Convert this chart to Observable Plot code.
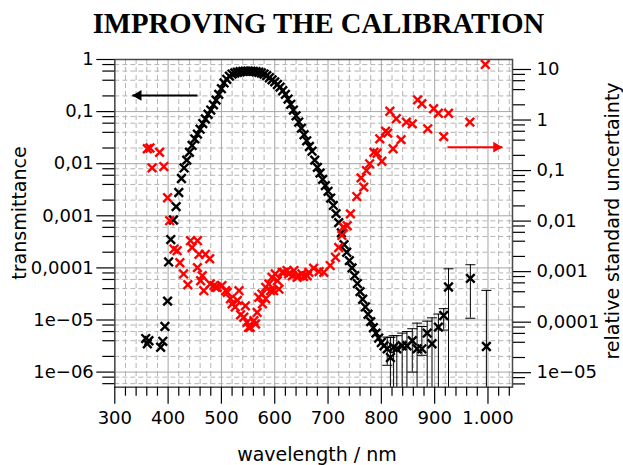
<!DOCTYPE html>
<html><head><meta charset="utf-8">
<script src="https://cdn.jsdelivr.net/npm/d3@7"></script>
<script src="https://cdn.jsdelivr.net/npm/@observablehq/plot@0.6"></script>
<style>
body{margin:0;background:#fff;}
#wrap{position:relative;width:623px;height:465px;overflow:hidden;}
#title{position:absolute;left:7px;top:0;width:623px;height:40px;text-align:center;font-family:"Liberation Serif","Times New Roman",serif;font-weight:bold;font-size:28.7px;line-height:46px;color:#000;white-space:nowrap;}
#chart{position:absolute;left:0;top:40px;}
.axlab{position:absolute;font-family:"DejaVu Sans",sans-serif;font-size:19px;line-height:1;white-space:nowrap;color:#000;transform:translate(-50%,-50%);}
.axlab.rot{transform:translate(-50%,-50%) rotate(-90deg);}
</style></head><body>
<div id="wrap">
  <div id="title">IMPROVING THE CALIBRATION</div>
  <div id="chart"></div>
  <div class="axlab rot" style="left:19px;top:213px;">transmittance</div>
  <div class="axlab rot" style="left:612px;top:221px;">relative standard uncertainty</div>
  <div class="axlab" style="left:317px;top:454px;">wavelength / nm</div>
</div>
<script>
// ---- tick labels ----
const xTickValues = [300, 400, 500, 600, 700, 800, 900, 1000];
const xTickLabels = ["300", "400", "500", "600", "700", "800", "900", "1.000"];
const leftTickValues = [1, 0.1, 0.01, 0.001, 0.0001, 1e-5, 1e-6];
const leftTickLabels = ["1", "0,1", "0,01", "0,001", "0,0001", "1e\u221205", "1e\u221206"];
const rightTickValues = [10, 1, 0.1, 0.01, 0.001, 0.0001, 1e-5];
const rightTickLabels = ["10", "1", "0,1", "0,01", "0,001", "0,0001", "1e\u221205"];

// ---- transmittance (black, left axis) ----
const blackNm = [358,361,364,386,390,394,399,401,405,410,415,420,425,430,435,440,445,450,455,460,465,470,475,480,485,490,495,500,505,510,515,520,525,530,535,540,545,550,555,560,565,570,575,580,585,590,595,600,605,610,615,620,625,630,635,640,645,650,655,660,665,670,675,680,685,690,695,700,705,710,715,720,725,730,735,740,745,750,755,760,765,770,775,780,785,790,795,800,805];
const blackT = [4.4e-6,3.5e-6,4.0e-6,3.0e-6,3.9e-6,7.5e-6,2.3e-5,1.3e-4,3.5e-4,8.3e-4,1.5e-3,2.8e-3,5.2e-3,8.3e-3,0.0117,0.0166,0.0224,0.030,0.037,0.046,0.059,0.072,0.089,0.107,0.135,0.166,0.214,0.275,0.355,0.417,0.479,0.525,0.55,0.569,0.582,0.59,0.596,0.597,0.596,0.59,0.582,0.569,0.55,0.525,0.49,0.447,0.407,0.372,0.331,0.295,0.251,0.214,0.174,0.138,0.107,0.083,0.063,0.048,0.036,0.0275,0.0214,0.0174,0.0117,0.0085,0.0066,0.0050,0.0038,0.00295,0.00219,0.00158,0.0011,7.4e-4,4.7e-4,2.8e-4,2.0e-4,1.38e-4,1.0e-4,7.1e-5,5.0e-5,3.5e-5,2.5e-5,1.78e-5,1.29e-5,9.3e-6,7.1e-6,5.6e-6,4.5e-6,3.7e-6,3.2e-6];

// ---- transmittance tail with error bars (null = lower bound below the axis) ----
const tailNm = [811,817,823,829,839,848,858,867,876,886,895,907,917,926,967,997];
const tailT = [2.8e-6,1.9e-6,3.0e-6,2.8e-6,3.2e-6,3.2e-6,4.0e-6,2.8e-6,2.8e-6,5.6e-6,3.5e-6,7.3e-6,1.22e-5,4.3e-5,6.3e-5,3.1e-6];
const tailLow = [1.35e-6,null,null,null,null,null,1.0e-6,null,2.1e-6,null,null,null,6.4e-6,null,1.08e-5,null];
const tailHigh = [4.7e-6,4.6e-6,5.0e-6,5.0e-6,5.6e-6,6.0e-6,6.8e-6,8.7e-6,7.5e-6,9.5e-6,1.1e-5,1.3e-5,1.65e-5,9.6e-5,1.15e-4,3.7e-5];

// ---- relative standard uncertainty (red, right axis) ----
const redNm = [361,366,370,384,392,399,403,411,417,422,429,437,442,445,455,455,458,461,464,467,470,478,479,486,489,492,501,508,511,517,520,526,530,533,536,542,545,548,551,554,561,564,567,570,576,577,583,583,589,592,595,598,601,605,608,614,617,623,626,633,636,642,645,651,654,661,664,673,683,692,704,714,720,726,729,736,742,754,762,767,772,778,786,792,797,801,808,812,816,822,828,837,847,858,868,876,887,898,907,917,926,966,995];
const redU = [0.27,0.28,0.113,0.23,0.12,0.029,0.0102,0.0028,0.0026,0.0015,9.0e-4,5.5e-4,0.0041,0.0030,0.0041,0.0012,0.0022,6.6e-4,8.3e-4,4.2e-4,0.0022,0.0018,5.7e-4,5.3e-4,4.9e-4,4.9e-4,5.3e-4,4.2e-4,3.9e-4,2.9e-4,2.3e-4,2.0e-4,2.7e-4,4.2e-4,1.4e-4,1.25e-4,2.1e-4,9.9e-5,7.9e-5,7.9e-5,1.07e-4,9.2e-5,1.56e-4,3.1e-4,3.6e-4,2.3e-4,4.9e-4,2.9e-4,5.7e-4,4.2e-4,7.7e-4,4.2e-4,9.0e-4,6.6e-4,4.5e-4,9.7e-4,9.7e-4,1.05e-3,9.0e-4,8.3e-4,1.05e-3,7.7e-4,8.3e-4,9.0e-4,8.0e-4,8.3e-4,9.7e-4,1.17e-3,1.0e-3,9.7e-4,1.32e-3,1.92e-3,3.0e-3,5.2e-3,7.6e-3,8.1e-3,0.0139,0.0306,0.0716,0.047,0.10,0.136,0.23,0.22,0.425,0.153,0.60,0.55,1.49,0.27,1.06,0.41,0.91,0.84,2.5,2.1,0.67,1.67,1.36,0.47,1.36,0.91,12.6];

// ---- annotation arrows ----
const arrowBlack = {from: 455, to: 333, t: 0.204};
const arrowRed = {from: 924, to: 1027, u: 0.29};

// ---- scales ----
const X_DOMAIN = [300, 1046];
const Y_DOMAIN = [5.13e-7, 1];
// right axis decades relative to the left (transmittance) axis
const RIGHT = {refU: 10, refT: 0.643, ratio: 0.970};
const toLeft = u => RIGHT.refT * Math.pow(u / RIGHT.refU, RIGHT.ratio);

const blackRows = blackNm.map((nm, i) => ({nm, t: blackT[i]}));
const tailRows = tailNm.map((nm, i) => ({nm, t: tailT[i], lo: tailLow[i] ?? Y_DOMAIN[0] / 100, hi: tailHigh[i]}));
const capRows = tailRows.flatMap(d => [{nm: d.nm, v: d.lo}, {nm: d.nm, v: d.hi}]);
const redRows = redNm.map((nm, i) => ({nm, t: toLeft(redU[i])}));

const leftMinor = [];
for (let e = -7; e <= -1; e++) for (const m of [2, 4, 6, 8]) { const v = m * 10 ** e; if (v >= Y_DOMAIN[0] && v <= Y_DOMAIN[1]) leftMinor.push(v); }
const rightMinor = [];
for (let e = -6; e <= 1; e++) for (const m of [2, 4, 6, 8]) { const v = toLeft(m * 10 ** e); if (v >= Y_DOMAIN[0] && v <= Y_DOMAIN[1]) rightMinor.push(v); }
const xMinor = d3.range(320, 1046, 20).filter(v => v % 100 !== 0);

const xLab = new Map(xTickValues.map((v, i) => [v, xTickLabels[i]]));
const leftLab = new Map(leftTickValues.map((v, i) => [v, leftTickLabels[i]]));
const rightRows = rightTickValues.map((u, i) => ({t: toLeft(u), label: rightTickLabels[i]}));

const capSymbol = {draw(ctx, size) { const r = Math.sqrt(size / Math.PI); ctx.moveTo(-r, 0); ctx.lineTo(r, 0); }};

const dash = {stroke: "#b4b4b4", strokeOpacity: 1, strokeWidth: 1, strokeDasharray: "5,3"};
const solid = {stroke: "#a6a6a6", strokeOpacity: 1, strokeWidth: 1};

const chart = Plot.plot({
  width: 623, height: 425,
  marginLeft: 114.3, marginRight: 111, marginTop: 19, marginBottom: 78.3,
  style: {fontFamily: "DejaVu Sans", fontSize: "18px", color: "black", background: "white"},
  x: {domain: X_DOMAIN, label: null},
  y: {type: "log", domain: Y_DOMAIN, label: null},
  marks: [
    Plot.gridX(xMinor, dash),
    Plot.gridY(leftMinor, dash),
    Plot.gridX(xTickValues, solid),
    Plot.gridY(leftTickValues, solid),
    Plot.frame({stroke: "#4a4a4a", strokeWidth: 1.5}),
    Plot.axisX(xTickValues, {tickSize: 17, tickPadding: 7, tickFormat: d => xLab.get(d), fontSize: 18, label: null, strokeWidth: 1.2}),
    Plot.axisX(xMinor, {tickSize: 9, tickFormat: () => "", label: null, strokeWidth: 1.2}),
    Plot.axisY(leftTickValues, {anchor: "left", tickSize: 18, tickPadding: 3, tickFormat: d => leftLab.get(d), fontSize: 18, label: null, strokeWidth: 1.2}),
    Plot.axisY(leftMinor, {anchor: "left", tickSize: 12, tickFormat: () => "", label: null, strokeWidth: 1.2}),
    Plot.axisY(rightRows.map(d => d.t), {anchor: "right", tickSize: 18, tickFormat: () => "", label: null, strokeWidth: 1.2}),
    Plot.text(rightRows, {y: "t", text: "label", frameAnchor: "right", textAnchor: "start", dx: 24, fontSize: 18}),
    Plot.axisY(rightMinor, {anchor: "right", tickSize: 12, tickFormat: () => "", label: null, strokeWidth: 1.2}),
    Plot.ruleX(tailRows, {x: "nm", y1: "lo", y2: "hi", stroke: "black", strokeWidth: 1, clip: true}),
    Plot.dot(capRows, {x: "nm", y: "v", symbol: capSymbol, r: 5, fill: "none", stroke: "black", strokeWidth: 1, clip: true}),
    Plot.dot(blackRows, {x: "nm", y: "t", symbol: "times", r: 4, stroke: "black", strokeWidth: 2.4}),
    Plot.dot(tailRows, {x: "nm", y: "t", symbol: "times", r: 4, stroke: "black", strokeWidth: 2.4}),
    Plot.dot(redRows, {x: "nm", y: "t", symbol: "times", r: 4, stroke: "#ff0000", strokeWidth: 2.4}),
    Plot.link([arrowBlack], {x1: "from", x2: "to", y1: "t", y2: "t", stroke: "black", strokeWidth: 2}),
    Plot.dot([arrowBlack], {x: "to", y: "t", symbol: "triangle", r: 4, rotate: -90, fill: "black", stroke: "none", dx: 6}),
    Plot.link([arrowRed], {x1: "from", x2: "to", y1: d => toLeft(d.u), y2: d => toLeft(d.u), stroke: "#ff0000", strokeWidth: 2}),
    Plot.dot([arrowRed], {x: "to", y: d => toLeft(d.u), symbol: "triangle", r: 4, rotate: 90, fill: "#ff0000", stroke: "none", dx: -6})
  ]
});
document.getElementById("chart").appendChild(chart);
</script>
</body></html>
